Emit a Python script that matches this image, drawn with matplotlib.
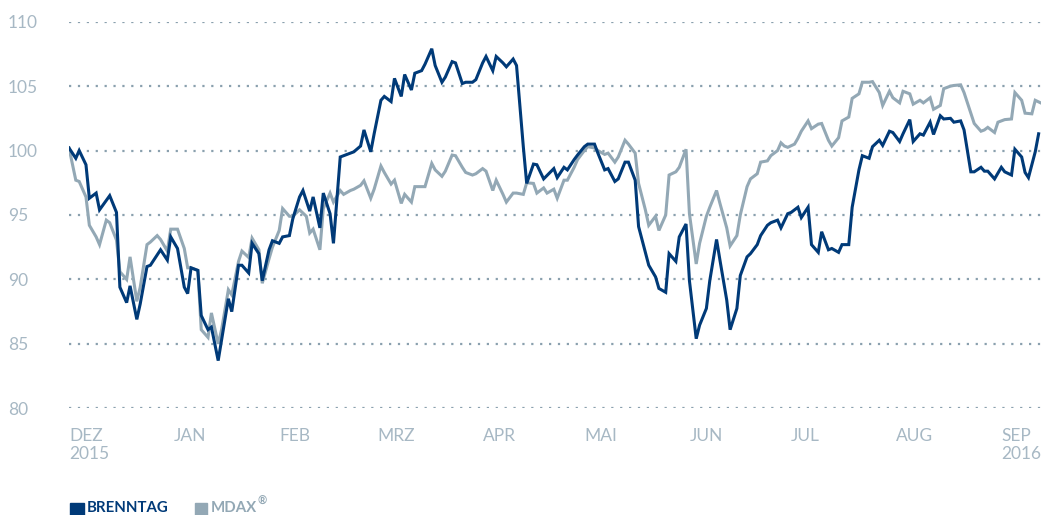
import matplotlib.pyplot as plt
import pandas as pd

# days since 2015-12-01 and index values (start = 100)
brenntag_days = [0, 2, 3, 5, 6, 8, 9, 12, 14, 15, 17, 18, 20, 21, 23, 24, 27, 29, 30, 32,
                 34, 35, 36, 38, 39, 41, 42, 44, 45, 47, 48, 50, 51, 53, 54, 56, 57, 59, 60, 62,
                 63, 65, 66, 68, 69, 71, 72, 74, 75, 77, 78, 80, 81, 83, 84, 86, 87, 89, 90, 92,
                 93, 95, 96, 98, 99, 101, 102, 104, 105, 107, 108, 110, 111, 113, 114, 116, 117, 119, 120, 122,
                 123, 125, 126, 128, 129, 131, 132, 134, 135, 137, 138, 140, 143, 144, 146, 147, 149, 150, 152, 153,
                 155, 156, 158, 159, 161, 162, 164, 165, 167, 168, 170, 171, 173, 174, 176, 177, 179, 180, 182, 183,
                 185, 186, 188, 189, 191, 192, 194, 195, 197, 198, 200, 201, 203, 204, 206, 207, 209, 210, 212, 213,
                 215, 216, 218, 219, 221, 222, 224, 225, 227, 228, 230, 231, 233, 234, 236, 237, 239, 240, 242, 243,
                 245, 246, 248, 249, 251, 252, 254, 255, 257, 258, 260, 261, 263, 264, 266, 267, 269, 270, 271, 273,
                 275, 276, 278, 279, 281, 282, 283, 285, 286]
brenntag_values = [100.2, 99.4, 100.0, 98.9, 96.3, 96.7, 95.4, 96.5, 95.2, 89.4, 88.2, 89.5, 86.9, 88.1, 91.0, 91.1, 92.3, 91.5, 93.3, 92.4,
                   89.4, 88.9, 90.9, 90.7, 87.2, 86.1, 86.3, 83.7, 85.3, 88.5, 87.5, 91.1, 91.1, 90.5, 92.8, 92.0, 89.9, 92.3, 93.0, 92.8,
                   93.3, 93.4, 94.7, 96.4, 96.9, 95.3, 96.4, 94.0, 96.7, 95.1, 92.8, 99.5, 99.6, 99.8, 99.9, 100.35, 101.6, 99.9, 101.3, 103.9,
                   104.2, 103.8, 105.6, 104.2, 105.9, 104.7, 106.0, 106.2, 106.7, 107.9, 106.6, 105.3, 105.7, 106.9, 106.8, 105.2, 105.3, 105.3, 105.5, 106.8,
                   107.3, 106.2, 107.3, 106.8, 106.5, 107.1, 106.6, 100.3, 97.45, 98.95, 98.9, 97.8, 98.6, 97.9, 98.7, 98.5, 99.3, 99.65, 100.3, 100.5,
                   100.5, 99.8, 98.5, 98.6, 97.6, 97.8, 99.1, 99.1, 97.7, 94.1, 92.1, 91.1, 90.2, 89.3, 89.0, 92.0, 91.4, 93.3, 94.3, 89.9,
                   85.4, 86.45, 87.75, 89.9, 93.1, 91.5, 88.4, 86.1, 87.75, 90.3, 91.75, 92.0, 92.7, 93.4, 94.2, 94.4, 94.6, 94.0, 95.1, 95.2,
                   95.6, 94.8, 95.6, 92.7, 92.1, 93.7, 92.3, 92.4, 92.1, 92.7, 92.7, 95.6, 98.5, 99.6, 99.4, 100.3, 100.8, 100.4, 101.5, 101.4,
                   100.7, 101.3, 102.4, 100.7, 101.3, 101.2, 102.2, 101.25, 102.7, 102.45, 102.5, 102.2, 102.3, 101.6, 98.35, 98.35, 98.7, 98.4, 98.4, 97.8,
                   98.7, 98.35, 98.1, 100.1, 99.5, 98.3, 97.9, 99.9, 101.3]

mdax_days = [0, 2, 3, 5, 6, 8, 9, 11, 12, 14, 15, 17, 18, 20, 21, 23, 24, 26, 27, 29,
             30, 32, 34, 35, 36, 38, 39, 41, 42, 44, 45, 47, 48, 50, 51, 53, 54, 56, 57, 59,
             60, 62, 63, 65, 66, 68, 70, 71, 72, 74, 75, 77, 78, 80, 81, 83, 84, 86, 87, 89,
             90, 92, 93, 95, 96, 98, 99, 101, 102, 105, 107, 108, 110, 111, 113, 114, 116, 117, 119, 120,
             122, 123, 125, 126, 128, 129, 131, 132, 134, 135, 137, 138, 140, 141, 143, 144, 146, 147, 149, 150,
             152, 153, 155, 156, 158, 159, 161, 162, 164, 165, 167, 168, 170, 171, 173, 174, 176, 177, 179, 180,
             182, 183, 185, 186, 188, 189, 191, 192, 194, 195, 197, 198, 200, 201, 203, 204, 206, 207, 209, 210,
             211, 212, 214, 215, 216, 218, 219, 221, 222, 224, 225, 227, 228, 230, 231, 233, 234, 236, 237, 239,
             240, 242, 243, 245, 246, 248, 249, 251, 252, 254, 255, 257, 258, 260, 261, 263, 264, 266, 267, 269,
             270, 271, 273, 274, 276, 278, 279, 281, 282, 284, 285, 287]
mdax_values = [100.2, 97.7, 97.6, 96.4, 94.2, 93.3, 92.7, 94.6, 94.4, 93.05, 90.6, 90.0, 91.75, 88.3, 89.4, 92.7, 92.9, 93.4, 93.1, 92.2,
               93.9, 93.9, 92.4, 90.9, 90.9, 90.7, 86.1, 85.5, 87.4, 85.0, 86.1, 89.2, 88.8, 91.4, 92.2, 91.7, 93.2, 92.3, 89.7, 91.6,
               92.5, 93.8, 95.5, 94.9, 94.9, 95.4, 94.9, 93.6, 93.9, 92.3, 95.5, 96.7, 96.0, 96.9, 96.6, 96.9, 97.0, 97.3, 97.65, 96.3,
               97.0, 98.8, 98.3, 97.4, 97.7, 95.9, 96.6, 96.0, 97.2, 97.2, 99.0, 98.5, 98.0, 98.4, 99.65, 99.6, 98.7, 98.3, 98.1, 98.2,
               98.6, 98.4, 96.9, 97.7, 96.6, 96.0, 96.7, 96.7, 96.6, 97.5, 97.45, 96.7, 97.1, 96.7, 97.0, 96.3, 97.7, 97.7, 98.7, 99.3,
               100.0, 100.3, 100.2, 100.0, 99.7, 99.8, 99.1, 99.5, 100.8, 100.5, 99.8, 97.45, 95.4, 94.2, 94.9, 93.8, 95.0, 98.1, 98.35, 98.7,
               100.1, 95.1, 91.2, 92.8, 94.9, 95.6, 96.9, 95.9, 94.0, 92.6, 93.4, 95.0, 97.2, 97.8, 98.2, 99.1, 99.2, 99.6, 100.0, 100.6,
               100.35, 100.25, 100.5, 100.95, 101.5, 102.3, 101.7, 102.05, 102.1, 100.8, 100.35, 101.0, 102.3, 102.6, 104.05, 104.4, 105.3, 105.3, 105.35, 104.5,
               103.5, 104.6, 104.1, 103.7, 104.6, 104.4, 103.6, 103.9, 103.7, 104.1, 103.2, 103.5, 104.8, 105.0, 105.05, 105.1, 104.5, 102.9, 102.1, 101.5,
               101.6, 101.8, 101.4, 102.2, 102.4, 102.45, 104.5, 103.9, 102.9, 102.85, 103.9, 103.65]

month_labels = ['DEZ\n2015', 'JAN', 'FEB', 'MRZ', 'APR', 'MAI', 'JUN', 'JUL', 'AUG', 'SEP\n2016']
y_ticks = [80, 85, 90, 95, 100, 105, 110]

start = pd.Timestamp('2015-12-01')
brenntag_dates = start + pd.to_timedelta(brenntag_days, unit='D')
mdax_dates = start + pd.to_timedelta(mdax_days, unit='D')
month_starts = pd.date_range('2015-12-01', '2016-09-01', freq='MS')

dark_blue = '#003a78'
grey_blue = '#93a8b5'
label_color = '#a7b8c4'

plt.rcParams['font.family'] = ['Lato', 'DejaVu Sans']

fig = plt.figure(figsize=(10.41, 5.15), dpi=100)
ax = fig.add_axes([0.0663, 0.2072, 0.9337, 0.7507])

for y in y_ticks:
    ax.axhline(y, color='#8aa0ae', linewidth=1.6, linestyle=(0, (1, 3)), zorder=0)

ax.plot(mdax_dates, mdax_values, color=grey_blue, linewidth=2.2, solid_joinstyle='miter')
ax.plot(brenntag_dates, brenntag_values, color=dark_blue, linewidth=2.2, solid_joinstyle='miter')

ax.set_xlim(start, start + pd.Timedelta(days=286.7))
ax.set_ylim(80, 110)

ax.set_yticks(y_ticks)
ax.set_yticklabels([str(v) for v in y_ticks])
ax.set_xticks(month_starts)
ax.set_xticklabels(month_labels)
for lbl in ax.get_xticklabels():
    lbl.set_horizontalalignment('left')
    lbl.set_multialignment('left')
for lbl in ax.get_yticklabels():
    lbl.set_horizontalalignment('left')

ax.tick_params(axis='both', length=0, labelsize=12.5, labelcolor=label_color)
ax.tick_params(axis='y', pad=44)
ax.tick_params(axis='x', pad=14)
for s in ax.spines.values():
    s.set_visible(False)

# legend along the bottom edge
fig.patches.append(plt.Rectangle((70 / 1041, 0), 14 / 1041, 12 / 515,
                                 transform=fig.transFigure, color=dark_blue))
fig.text(87 / 1041, 1 - 511.5 / 515, 'BRENNTAG', color=dark_blue, fontsize=10.8,
         fontweight='bold', va='baseline', ha='left')
fig.patches.append(plt.Rectangle((195 / 1041, 0), 12 / 1041, 12 / 515,
                                 transform=fig.transFigure, color=grey_blue))
fig.text(211 / 1041, 1 - 511.5 / 515, 'MDAX', color=grey_blue, fontsize=10.8,
         fontweight='bold', va='baseline', ha='left')
fig.text(258 / 1041, 1 - 505 / 515, '®', color=grey_blue, fontsize=8,
         fontweight='bold', va='baseline', ha='left')

fig.savefig('out.png', dpi=100)
